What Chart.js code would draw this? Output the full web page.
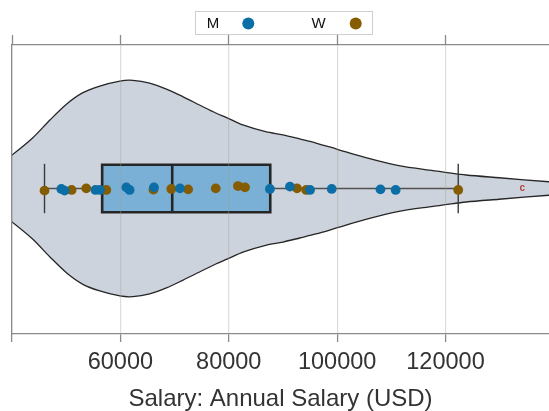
<!DOCTYPE html>
<html>
<head>
<meta charset="utf-8">
<script src="https://cdn.jsdelivr.net/npm/chart.js@4/dist/chart.umd.min.js"></script>
<style>
  html, body { margin: 0; padding: 0; background: #fff; overflow: hidden; }
  #wrap { width: 549px; height: 411px; position: relative; }
  #wrap canvas { display: block; }
</style>
</head>
<body>
<div id="wrap"><canvas id="chart"></canvas></div>
<script>
// Axis ticks
const tickValues = [40000, 60000, 80000, 100000, 120000];
const tickLabels = ['', '60000', '80000', '100000', '120000'];
const axisTitle = 'Salary: Annual Salary (USD)';

// Groups and individual salaries (with their vertical jitter)
const groups = ['M', 'W'];
const mSalary = [49100, 49700, 55400, 56200, 61100, 61700, 66200, 71000, 87600, 91300, 95000, 99000, 108000, 110800];
const mJitter = [-0.003, -0.015, -0.010, -0.010, 0.008, -0.010, 0.008, 0.001, -0.003, 0.013, -0.010, -0.003, -0.006, -0.010];
const wSalary = [46000, 51000, 53700, 57400, 66100, 69400, 72500, 77600, 81700, 83000, 92600, 94300, 122350];
const wJitter = [-0.015, -0.010, 0.001, -0.010, -0.008, -0.003, -0.006, 0.001, 0.017, 0.008, 0.001, -0.010, -0.010];

// Box summary: lower whisker, Q1, median, Q3, upper whisker
const boxStats = [46000, 56640, 69570, 87660, 122350];

// Violin density profile (half-width) along salary
const violinSalary = [37000, 40000, 43800, 47000, 50100, 53000, 56200, 59900, 62300, 65400, 68500, 71500, 74600, 77600, 79800, 82600, 86800, 90000, 93100, 96100, 99900, 105300, 111400, 117700, 119900, 123800, 129900, 139100, 143000];
const violinDensity = [0.150, 0.233, 0.352, 0.477, 0.589, 0.666, 0.714, 0.749, 0.754, 0.735, 0.693, 0.640, 0.582, 0.526, 0.491, 0.443, 0.396, 0.373, 0.345, 0.317, 0.275, 0.215, 0.159, 0.124, 0.113, 0.094, 0.075, 0.047, 0.040];

// Marked outlier
const markText = ['c'];
const markSalary = [134160];

// ---- styling ----
const FONT = "'Liberation Sans', Arial, Helvetica, sans-serif";
const COLORS = { M: '#0b6ea6', W: '#855c00' };
const DARK = '#262626';
const AXIS = '#8a8a8a';
const BOX_HALF = 0.166;
const CAP_HALF = 0.172;

const violinShape = violinSalary.map((x, i) => ({ x, y: violinDensity[i] }))
  .concat(violinSalary.slice().reverse().map((x, i) => ({ x, y: -violinDensity[violinDensity.length - 1 - i] })));

const [wLo, q1, med, q3, wHi] = boxStats;
const boxShape = [
  { x: q1, y: 0 }, { x: q1, y: BOX_HALF }, { x: q3, y: BOX_HALF },
  { x: q3, y: -BOX_HALF }, { x: q1, y: -BOX_HALF }, { x: q1, y: 0 }
];

const lineSet = (data, color, width) => ({
  data, showLine: true, borderColor: color, borderWidth: width,
  pointRadius: 0, pointHoverRadius: 0, fill: false, tension: 0
});
const dotSet = (label, xs, ys, color) => ({
  label, data: xs.map((x, i) => ({ x, y: ys[i] })),
  backgroundColor: color, borderWidth: 0, pointRadius: 4.9, pointHoverRadius: 4.9, showLine: false
});

const legendPlugin = {
  id: 'groupLegend',
  afterDraw(chart) {
    const ctx = chart.ctx;
    ctx.save();
    ctx.fillStyle = '#fff';
    ctx.strokeStyle = '#cfcfcf';
    ctx.lineWidth = 1;
    ctx.fillRect(195.5, 11.5, 177, 23);
    ctx.strokeRect(195.5, 11.5, 177, 23);
    const textX = [213, 318.5];
    const dotX = [248.3, 355.7];
    ctx.font = '15px ' + FONT;
    ctx.textAlign = 'center';
    ctx.textBaseline = 'middle';
    groups.forEach((g, i) => {
      ctx.fillStyle = '#111';
      ctx.fillText(g, textX[i], 23.5);
      ctx.fillStyle = COLORS[g];
      ctx.beginPath();
      ctx.arc(dotX[i], 23.5, 6, 0, Math.PI * 2);
      ctx.fill();
    });
    ctx.restore();
  }
};

const markPlugin = {
  id: 'outlierMarks',
  afterDatasetsDraw(chart) {
    const ctx = chart.ctx;
    const xs = chart.scales.x, ys = chart.scales.y;
    ctx.save();
    ctx.fillStyle = '#b5443c';
    ctx.font = '600 10px ' + FONT;
    ctx.textAlign = 'center';
    ctx.textBaseline = 'middle';
    markText.forEach((t, i) => ctx.fillText(t, xs.getPixelForValue(markSalary[i]), ys.getPixelForValue(0)));
    ctx.restore();
  }
};

const setTicks = (scale) => { scale.ticks = tickValues.map(v => ({ value: v })); };
// fixed axis bands so the plot area stays put
const fitHeight = (h) => (scale) => { scale.height = h; scale.paddingLeft = 0; scale.paddingRight = 0; };

new Chart(document.getElementById('chart'), {
  type: 'scatter',
  data: {
    datasets: [
      dotSet(groups[0], mSalary, mJitter, COLORS.M),
      dotSet(groups[1], wSalary, wJitter, COLORS.W),
      lineSet([{ x: med, y: -BOX_HALF }, { x: med, y: BOX_HALF }], DARK, 2.6),
      Object.assign(lineSet(boxShape, DARK, 2.6), { fill: 'shape', backgroundColor: '#7aafd6', borderJoinStyle: 'miter' }),
      lineSet([{ x: wLo, y: -CAP_HALF }, { x: wLo, y: CAP_HALF }], '#3a3a3a', 1.4),
      lineSet([{ x: wHi, y: -CAP_HALF }, { x: wHi, y: CAP_HALF }], '#3a3a3a', 1.4),
      lineSet([{ x: wLo, y: 0 }, { x: wHi, y: 0 }], '#505050', 1.4),
      Object.assign(lineSet(violinShape, DARK, 1.3), { fill: 'shape', backgroundColor: '#ccd3dc', tension: 0.3 })
    ]
  },
  options: {
    responsive: true,
    maintainAspectRatio: false,
    animation: false,
    events: [],
    layout: { autoPadding: false, padding: { left: 12, right: 0, top: 35, bottom: 0 } },
    plugins: { legend: { display: false }, tooltip: { enabled: false } },
    scales: {
      x: {
        type: 'linear', position: 'bottom', min: 40000, max: 139100,
        afterBuildTicks: setTicks,
        afterFit: fitHeight(77),
        grid: { z: 1, color: 'rgba(165,158,140,0.35)', lineWidth: 1.2, tickColor: AXIS, tickLength: 8, tickWidth: 1.3 },
        border: { display: true, z: 1, color: AXIS, width: 1.3 },
        ticks: {
          autoSkip: false, maxRotation: 0, padding: 6, color: '#333',
          font: { family: FONT, size: 23.5 },
          callback: (v) => tickLabels[tickValues.indexOf(v)] ?? ''
        },
        title: { display: true, text: axisTitle, color: '#333', font: { family: FONT, size: 24, lineHeight: 1.0 }, padding: { top: 0, bottom: 0 } }
      },
      xTop: {
        type: 'linear', position: 'top', min: 40000, max: 139100,
        afterBuildTicks: setTicks,
        afterFit: fitHeight(10),
        grid: { drawOnChartArea: false, tickColor: AXIS, tickLength: 10, tickWidth: 1.3 },
        border: { display: true, z: 1, color: AXIS, width: 1.3 },
        ticks: { display: false }
      },
      y: {
        type: 'linear', min: -1.014, max: 1,
        afterFit: (s) => { s.width = 0; },
        grid: { display: false, drawTicks: false },
        border: { display: true, z: 1, color: AXIS, width: 1.3 },
        ticks: { display: false }
      }
    }
  },
  plugins: [legendPlugin, markPlugin]
});
</script>
</body>
</html>
